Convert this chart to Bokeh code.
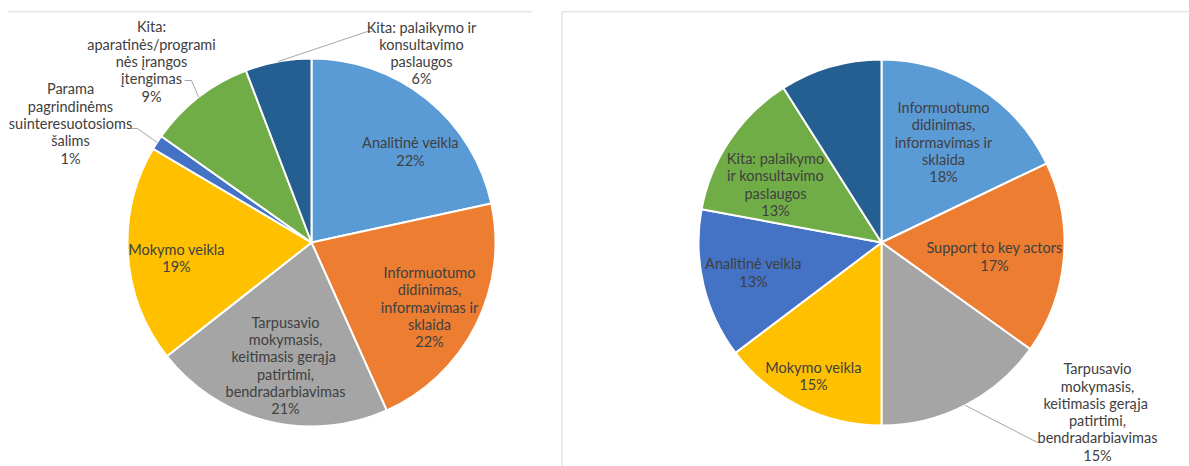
import numpy as np
from bokeh.plotting import figure
from bokeh.models import Range1d, ColumnDataSource
from bokeh.core.properties import value
from bokeh.embed import file_html
from bokeh.resources import INLINE

# ---------------- data ----------------
left_categories = [
    "Analitinė veikla",
    "Informuotumo\ndidinimas,\ninformavimas ir\nsklaida",
    "Tarpusavio\nmokymasis,\nkeitimasis  gerąja\npatirtimi,\nbendradarbiavimas",
    "Mokymo veikla",
    "Parama\npagrindinėms\nsuinteresuotosioms\nšalims",
    "Kita:\naparatinės/programi\nnės įrangos\nįtengimas",
    "Kita: palaikymo ir\nkonsultavimo\npaslaugos",
]
left_values = [21.6, 21.7, 21.1, 19.1, 1.3, 9.4, 5.8]

right_categories = [
    "Informuotumo\ndidinimas,\ninformavimas ir\nsklaida",
    "Support to key actors",
    "Tarpusavio\nmokymasis,\nkeitimasis  gerąja\npatirtimi,\nbendradarbiavimas",
    "Mokymo veikla",
    "Analitinė veikla",
    "Kita: palaikymo\nir konsultavimo\npaslaugos",
    "",
]
right_values = [17.9, 17.0, 15.1, 14.7, 13.2, 13.1, 9.0]

left_colors = ["#5B9BD5", "#ED7D31", "#A5A5A5", "#FFC000", "#4472C4", "#70AD47", "#255E91"]
right_colors = ["#5B9BD5", "#ED7D31", "#A5A5A5", "#FFC000", "#4472C4", "#70AD47", "#255E91"]

# ---------------- layout ----------------
W, H = 1189, 466
FONT = "Lato"
FSIZE = "14.5px"
LINE_H = 17.3
TEXT_COLOR = "#404040"

# label block centres, as (dx, dy) pixel offsets from pie centre (dy downward)
left_label_off = [(99, -91), (118, 64.5), (-26, 123), (-135, 15.5), (-241, -119), (-160, -181), (110, -189.5)]
right_label_off = [(62, -100.5), (113, 14), (216, 169.5), (-68, 133.5), (-128, 30), (-106, -58), None]

# leader lines: elbow and end offsets from pie centre (dy downward)
left_leaders = {4: [(-174, -114), (-181, -114)],
                5: [(-120, -162), (-127, -162)],
                6: [(56, -211), (61, -211)]}
right_leaders = {2: [(156, 200), (162, 200)]}

p = figure(width=W, height=H, output_backend="svg", toolbar_location=None,
           x_range=Range1d(0, W), y_range=Range1d(0, H), min_border=0,
           x_axis_type=None, y_axis_type=None)
p.grid.visible = False
p.outline_line_color = None
p.background_fill_color = "white"
p.border_fill_color = "white"


def sx(x):
    return x


def sy(y):
    return H - y


# panel borders
p.line([sx(8), sx(532)], [sy(11.3), sy(11.3)], line_color="#D9D9D9", line_width=1)
p.line([sx(561.5), sx(561.5), sx(1189)], [sy(470), sy(11.3), sy(11.3)], line_color="#D9D9D9", line_width=1)


def draw_pie(cx_s, cy_s, r, values, colors, cats, offs, leaders):
    cx, cy = sx(cx_s), sy(cy_s)
    vals = np.array(values, dtype=float)
    fr = vals / vals.sum()
    cum = np.concatenate([[0.0], np.cumsum(fr)])
    start = np.pi / 2 - 2 * np.pi * cum[:-1]
    end = np.pi / 2 - 2 * np.pi * cum[1:]
    n = len(vals)
    src = ColumnDataSource(dict(x=[cx] * n, y=[cy] * n, start=start, end=end, color=colors))
    p.wedge(x="x", y="y", radius=r, start_angle="start", end_angle="end", direction="clock",
            fill_color="color", line_color="white", line_width=2, source=src)

    # leader lines
    for i, pts in leaders.items():
        mid = (start[i] + end[i]) / 2
        xs = [cx + r * np.cos(mid)] + [cx + dx for dx, dy in pts]
        ys = [cy + r * np.sin(mid)] + [cy - dy for dx, dy in pts]
        p.line(xs, ys, line_color="#A6A6A6", line_width=1)

    # labels
    tx, ty, tt = [], [], []
    for i in range(n):
        if offs[i] is None:
            continue
        lines = cats[i].split("\n") + [f"{round(vals[i])}%"]
        bx = cx + offs[i][0]
        by = cy - offs[i][1]
        k = len(lines)
        for j, ln in enumerate(lines):
            tx.append(bx)
            ty.append(by + (k - 1) / 2 * LINE_H - j * LINE_H)
            tt.append(ln)
    p.text(x=tx, y=ty, text=tt, text_align="center", text_baseline="middle",
           text_font=value(FONT), text_font_size=FSIZE, text_color=TEXT_COLOR)


draw_pie(311, 242, 184, left_values, left_colors, left_categories, left_label_off, left_leaders)
draw_pie(881, 242, 183, right_values, right_colors, right_categories, right_label_off, right_leaders)

open("out.html", "w").write(file_html(p, INLINE))
